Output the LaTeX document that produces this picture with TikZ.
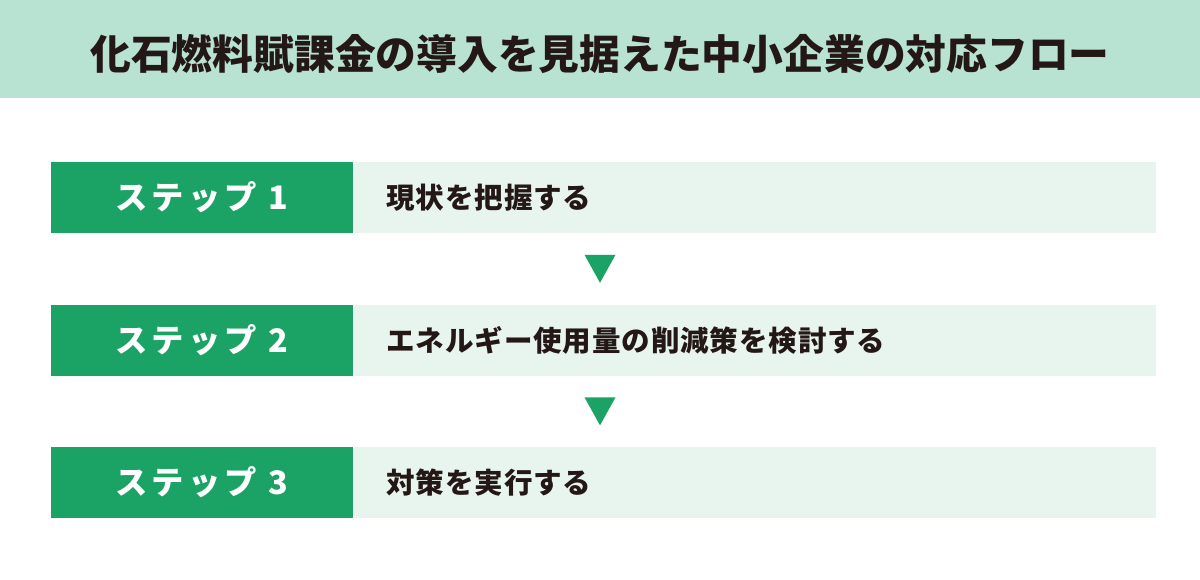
\documentclass[tikz,border=0pt]{standalone}
\usepackage{fontspec}
\setmainfont{Noto Sans CJK JP}
\newfontfamily\stepfont{Noto Sans CJK JP}[LetterSpace=13]
\newfontfamily\bodyfont{Noto Sans CJK JP}[LetterSpace=3]
\usetikzlibrary{positioning,calc}
\definecolor{headmint}{HTML}{B8E2D2}
\definecolor{stepgreen}{HTML}{1BA265}
\definecolor{bodymint}{HTML}{E8F5EE}
\definecolor{inkblack}{HTML}{231815}

\begin{document}
\begin{tikzpicture}[scale=1,
    stepbox/.style={fill=stepgreen, text=white, minimum width=7.55cm, minimum height=1.775cm,
      inner sep=0pt, font=\stepfont\bfseries\fontsize{23pt}{24pt}\selectfont},
    bodybox/.style={fill=bodymint, text=inkblack, text width=18.4cm, inner xsep=0.825cm,
      minimum height=1.775cm, align=left, inner ysep=0pt,
      font=\bodyfont\bfseries\fontsize{20.3pt}{22pt}\selectfont},
    arrowfill/.style={fill=stepgreen}]
  \useasboundingbox (0,0) rectangle (30,-14.5);
  \fill[headmint] (0,0) rectangle (30,-2.45);
  \node[text=inkblack, font=\bfseries\fontsize{29pt}{30pt}\selectfont] (title) at (15,-1.35)
    {化石燃料賦課金の導入を見据えた中小企業の対応フロー};

  % steps
  \node[stepbox] (s1) at (5.05,-4.9375) {ステップ\ 1};
  \node[bodybox, right=0cm of s1] (b1) {現状を把握する};
  \node[stepbox, below=1.775cm of s1] (s2) {ステップ\ 2};
  \node[bodybox, right=0cm of s2] (b2) {エネルギー使用量の削減策を検討する};
  \node[stepbox, below=1.775cm of s2] (s3) {ステップ\ 3};
  \node[bodybox, right=0cm of s3] (b3) {対策を実行する};

  % arrows
  \foreach \i/\j in {1/2,2/3} {
    \coordinate (a\i) at ($(s\i.south)!0.5!(s\j.north) + (9.95,0)$);
    \fill[arrowfill] ($(a\i)+(-0.3875,0.35)$) -- ($(a\i)+(0.3875,0.35)$) -- ($(a\i)+(0,-0.35)$) -- cycle;
  }
\end{tikzpicture}
\end{document}
